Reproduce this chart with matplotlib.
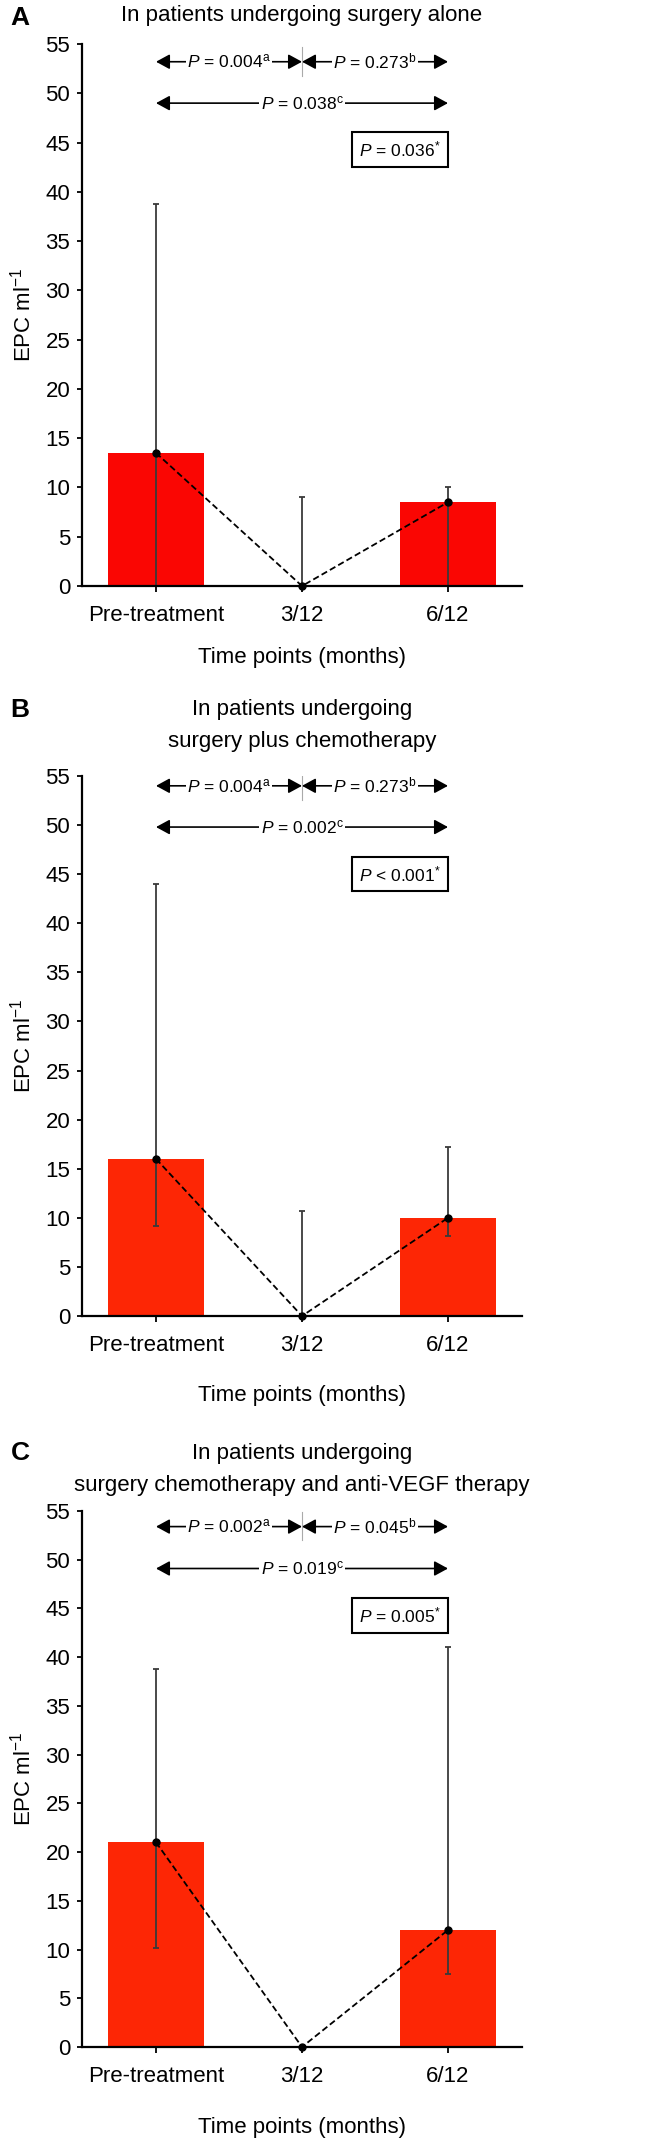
import matplotlib
matplotlib.use('Agg')
import matplotlib.pyplot as plt
import numpy as np

plt.rcParams['font.family'] = ['Liberation Sans', 'DejaVu Sans']
plt.rcParams['mathtext.fontset'] = 'custom'
plt.rcParams['mathtext.rm'] = 'Liberation Sans'
plt.rcParams['mathtext.it'] = 'Liberation Sans:italic'
plt.rcParams['mathtext.bf'] = 'Liberation Sans:bold'

categories = ['Pre-treatment', '3/12', '6/12']
yticks = list(range(0, 56, 5))

# panel A - surgery alone
means_a = [13.5, 0.0, 8.5]
upper_a = [38.8, 9.0, 10.0]
lower_a = [0.0, 0.0, 0.0]
pvals_a = ['= 0.004', '= 0.273', '= 0.038', '= 0.036']

# panel B - surgery plus chemotherapy
means_b = [16.0, 0.0, 10.0]
upper_b = [44.0, 10.7, 17.2]
lower_b = [9.2, 0.0, 8.1]
pvals_b = ['= 0.004', '= 0.273', '= 0.002', '< 0.001']

# panel C - surgery, chemo and anti-VEGF
means_c = [21.0, 0.0, 12.0]
upper_c = [38.8, 0.0, 41.0]
lower_c = [10.2, 0.0, 7.5]
pvals_c = ['= 0.002', '= 0.045', '= 0.019', '= 0.005']

W, H = 647, 2142
fig = plt.figure(figsize=(W / 100, H / 100), dpi=100)


def fy(px):
    return 1 - px / H


def draw_panel(top, bottom, means, upper, lower, pvals, color, arrow_y, title_lines,
               letter, letter_y, xlabel_y):
    ax = fig.add_axes([82 / W, fy(bottom), 440 / W, (bottom - top) / H])
    x = np.arange(len(categories))
    means = np.array(means)
    yerr = [means - np.array(lower), np.array(upper) - means]
    ax.bar(x, means, width=0.66, color=color, zorder=1)
    ax.errorbar(x, means, yerr=yerr, fmt='none', ecolor='#3a3a3a',
                elinewidth=1.3, capsize=2.2, capthick=1.3, zorder=2)
    ax.plot(x, means, color='black', ls=(0, (3.5, 1.8)), lw=1.3, marker='o',
            ms=5, zorder=4, clip_on=False)

    ax.set_xlim(-0.507, 2.507)
    ax.set_ylim(0, 55)
    ax.set_yticks(yticks)
    ax.set_xticks(x)
    ax.set_xticklabels(categories)
    for s in ('top', 'right'):
        ax.spines[s].set_visible(False)
    for s in ('left', 'bottom'):
        ax.spines[s].set_linewidth(1.6)
    ax.tick_params(axis='y', length=3.5, width=1.3, pad=5, labelsize=16)
    ax.tick_params(axis='x', length=4, width=1.3, pad=10, labelsize=16)

    # pairwise comparison arrows
    y1, y2, yb = arrow_y
    aprops = dict(arrowstyle='<|-|>,head_length=0.55,head_width=0.3',
                  color='black', lw=1.2, shrinkA=0, shrinkB=0,
                  mutation_scale=15)
    ax.annotate('', xy=(1, y1), xytext=(0, y1), arrowprops=aprops, zorder=5)
    ax.annotate('', xy=(2, y1), xytext=(1, y1), arrowprops=aprops, zorder=5)
    ax.annotate('', xy=(2, y2), xytext=(0, y2), arrowprops=aprops, zorder=5)
    ax.plot([1, 1], [y1 - 1.4, y1 + 1.5], color='#aaaaaa', lw=0.8, zorder=4)

    tbox = dict(boxstyle='square,pad=0.08', fc='white', ec='none')
    fs = 12.5
    ax.text(0.5, y1, r'$\mathit{P}$ ' + pvals[0] + r'$^{\mathrm{a}}$',
            ha='center', va='center', fontsize=fs, bbox=tbox, zorder=6)
    ax.text(1.5, y1, r'$\mathit{P}$ ' + pvals[1] + r'$^{\mathrm{b}}$',
            ha='center', va='center', fontsize=fs, bbox=tbox, zorder=6)
    ax.text(1.0, y2, r'$\mathit{P}$ ' + pvals[2] + r'$^{\mathrm{c}}$',
            ha='center', va='center', fontsize=fs, bbox=tbox, zorder=6)
    ax.text(1.95, yb, r'$\mathit{P}$ ' + pvals[3] + r'$^{*}$',
            ha='right', va='center', fontsize=fs, zorder=6,
            bbox=dict(boxstyle='square,pad=0.42', fc='white', ec='black', lw=1.5))

    # titles and labels
    for txt, ty in title_lines:
        fig.text(302 / W, fy(ty), txt, ha='center', va='center', fontsize=16)
    fig.text(20 / W, fy(letter_y), letter, ha='center', va='center',
             fontsize=19, fontweight='bold')
    fig.text(23 / W, fy((top + bottom) / 2), r'EPC ml$^{-1}$', rotation=90,
             ha='center', va='center', fontsize=16)
    fig.text(302 / W, fy(xlabel_y), 'Time points (months)', ha='center',
             va='center', fontsize=16)
    return ax


draw_panel(44, 586, means_a, upper_a, lower_a, pvals_a, '#fa0603',
           (53.2, 49.0, 44.3),
           [('In patients undergoing surgery alone', 16)], 'A', 18, 657)
draw_panel(776, 1316, means_b, upper_b, lower_b, pvals_b, '#fd2605',
           (54.0, 49.8, 45.0),
           [('In patients undergoing', 710), ('surgery plus chemotherapy', 741)],
           'B', 710, 1395)
draw_panel(1511, 2047, means_c, upper_c, lower_c, pvals_c, '#fd2605',
           (53.4, 49.1, 44.3),
           [('In patients undergoing', 1453),
            ('surgery chemotherapy and anti-VEGF therapy', 1486)],
           'C', 1453, 2127)

fig.savefig('out.png', dpi=100)
